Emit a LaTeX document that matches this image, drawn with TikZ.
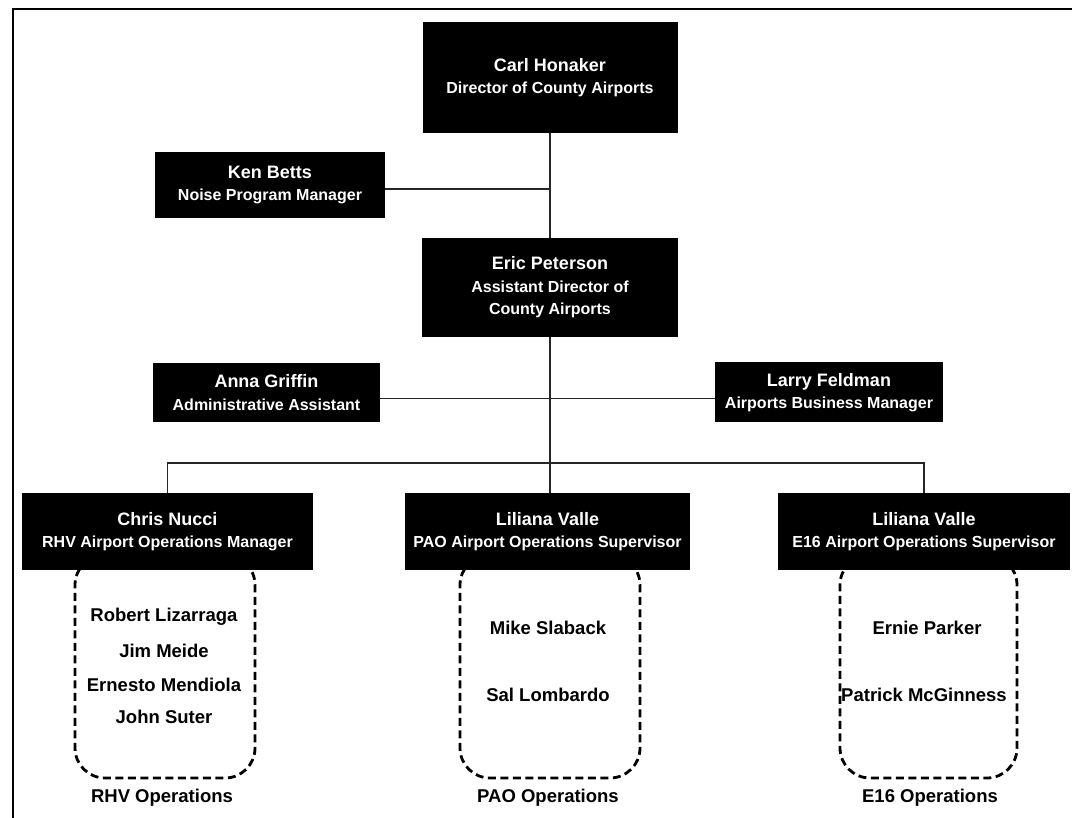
\documentclass[tikz,border=0pt]{standalone}
\usepackage{fontspec}
\setmainfont{Liberation Sans}
\newcommand\nmfont{\fontsize{18}{22}\selectfont}
\begin{document}
\begin{tikzpicture}[x=1pt,y=-1pt,
  blk/.style={fill=black,draw=none,text=white,align=center,inner sep=0pt,
    font=\bfseries\fontsize{16}{22.5}\selectfont},
  grp/.style={draw=black,line width=2.8pt,dash pattern=on 8pt off 4.5pt,rounded corners=30pt,inner sep=0pt},
  person/.style={font=\bfseries\fontsize{18.5}{22}\selectfont,inner sep=0pt},
  conn/.style={line width=1.4pt,draw=black!85},
  frame/.style={line width=2pt}]
\useasboundingbox (0,0) rectangle (1072,818);
% frame
\coordinate (fTL) at (13,9);
\coordinate (fTR) at (1072,9);
\coordinate (fBL) at (13,818);
\draw[frame] (fBL) -- (fTL) -- (fTR);

% dashed groups (drawn first, partly hidden by boxes)
\node[grp,minimum width=180pt,minimum height=223pt] (rhvgrp) at (165,666.5) {};
\node[grp,minimum width=180pt,minimum height=223pt] (paogrp) at (550,666.5) {};
\node[grp,minimum width=177pt,minimum height=223pt] (e16grp) at (928.5,666.5) {};

% boxes
\node[blk,minimum width=255pt,minimum height=111pt] (carl) at (550,77.5)
  {{\nmfont Carl Honaker}\\Director of County Airports};
\node[blk,minimum width=230pt,minimum height=66pt] (ken) at (270,185)
  {{\nmfont Ken Betts}\\Noise Program Manager};
\node[blk,minimum width=256pt,minimum height=99pt] (eric) at (550,287.5)
  {{\nmfont Eric Peterson}\\Assistant Director of\\County Airports};
\node[blk,minimum width=227pt,minimum height=59pt] (anna) at (266.5,392.5)
  {{\nmfont Anna Griffin}\\Administrative Assistant};
\node[blk,minimum width=228pt,minimum height=60pt] (larry) at (829,392.5)
  {{\nmfont Larry Feldman}\\Airports Business Manager};
\node[blk,minimum width=291pt,minimum height=77pt] (chris) at (167.5,531.5)
  {{\nmfont Chris Nucci}\\RHV Airport Operations Manager};
\node[blk,minimum width=285pt,minimum height=77pt] (pao) at (547.5,531.5)
  {{\nmfont Liliana Valle}\\PAO Airport Operations Supervisor};
\node[blk,minimum width=292pt,minimum height=77pt] (e16) at (924,531.5)
  {{\nmfont Liliana Valle}\\E16 Airport Operations Supervisor};

% connectors
\coordinate (bus) at (548,463);
\draw[conn] (carl.south) -- (eric.north);
\draw[conn] ([yshift=-4pt]ken.east) -- ([yshift=-4pt]ken.east -| eric.north);
\draw[conn] ([yshift=-6pt]anna.east) -- ([yshift=-6pt]larry.west);
\draw[conn] (eric.south) -- (eric.south |- pao.north);
\draw[conn] (chris.north) -- (chris.north |- bus) -- (e16.north |- bus) -- (e16.north);

% people
\node[person] (p1) at (164,617) {Robert Lizarraga};
\node[person] (p2) at (164,651) {Jim Meide};
\node[person] (p3) at (164,685) {Ernesto Mendiola};
\node[person] (p4) at (164,717) {John Suter};
\node[person] (p5) at (548,628) {Mike Slaback};
\node[person] (p6) at (548,695) {Sal Lombardo};
\node[person] (p7) at (927,628) {Ernie Parker};
\node[person] (p8) at (924,695) {Patrick McGinness};

% group labels
\node[person] (l1) at (162,798) {RHV Operations};
\node[person] (l2) at (548,798) {PAO Operations};
\node[person] (l3) at (930,798) {E16 Operations};
\end{tikzpicture}
\end{document}
